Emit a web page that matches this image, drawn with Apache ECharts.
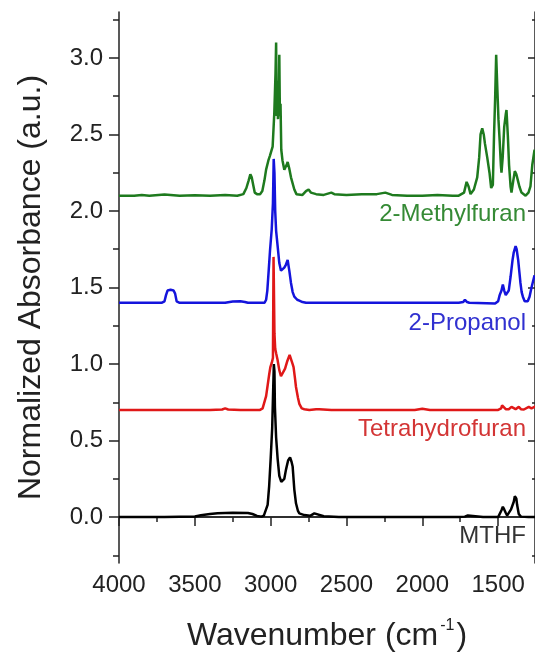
<!DOCTYPE html>
<html>
<head>
<meta charset="utf-8">
<script src="https://cdn.jsdelivr.net/npm/echarts@6/dist/echarts.min.js"></script>
<style>
html,body{margin:0;padding:0;background:#fff;}
#chart{width:535px;height:658px;}
</style>
</head>
<body>
<div id="chart"></div>
<script>
// ---- data: [wavenumber (cm-1), normalized absorbance (offset)] ----
var mthf = [[4000,0],[3700,0],[3500,0.004],[3460,0.012],[3400,0.02],[3350,0.025],[3250,0.028],[3150,0.027],[3120,0.02],[3090,0.008],[3060,0.003],[3045,0.01],[3035,0.02],[3020,0.08],[3010,0.2],[3000,0.38],[2990,0.58],[2983,0.85],[2979,1.0],[2975,0.95],[2972,0.72],[2964,0.52],[2954,0.38],[2943,0.27],[2930,0.23],[2921,0.22],[2910,0.25],[2899,0.31],[2885,0.37],[2872,0.39],[2862,0.36],[2855,0.33],[2844,0.18],[2833,0.09],[2820,0.04],[2811,0.024],[2778,0.013],[2740,0.008],[2712,0.024],[2700,0.012],[2650,0.005],[2550,0],[2000,0],[1760,0],[1720,0.003],[1700,0.01],[1690,0.003],[1600,0],[1500,0],[1490,0.01],[1478,0.045],[1469,0.067],[1460,0.05],[1451,0.03],[1441,0.01],[1430,0.015],[1415,0.05],[1397,0.10],[1390,0.137],[1386,0.13],[1380,0.12],[1375,0.08],[1364,0.02],[1350,0.003],[1300,0],[1250,0]];

var thf = [[4000,0.7],[3400,0.7],[3320,0.703],[3300,0.71],[3280,0.703],[3200,0.7],[3070,0.7],[3053,0.71],[3041,0.72],[3030,0.79],[3020,0.86],[3010,0.93],[3002,0.98],[2992,1.01],[2985,1.04],[2981,1.70],[2978,1.45],[2975,1.2],[2970,1.10],[2964,1.07],[2955,1.03],[2943,0.96],[2932,0.92],[2920,0.93],[2905,0.97],[2890,1.02],[2875,1.06],[2866,1.06],[2855,1.0],[2849,0.98],[2840,0.91],[2833,0.85],[2820,0.78],[2811,0.74],[2795,0.71],[2778,0.705],[2745,0.7],[2700,0.705],[2690,0.712],[2680,0.705],[2600,0.7],[2050,0.7],[2000,0.708],[1950,0.7],[1500,0.7],[1480,0.71],[1474,0.73],[1465,0.72],[1450,0.705],[1430,0.705],[1412,0.72],[1400,0.71],[1385,0.705],[1364,0.72],[1350,0.705],[1330,0.703],[1298,0.72],[1280,0.71],[1250,0.725]];

var propanol = [[4000,1.4],[3720,1.4],[3700,1.41],[3690,1.45],[3680,1.48],[3660,1.485],[3640,1.48],[3630,1.46],[3620,1.41],[3600,1.4],[3300,1.4],[3250,1.408],[3200,1.41],[3170,1.405],[3150,1.4],[3040,1.4],[3030,1.42],[3022,1.48],[3013,1.61],[3004,1.745],[2993,1.88],[2985,2.05],[2980,2.34],[2975,2.25],[2970,2.0],[2964,1.87],[2954,1.77],[2943,1.66],[2932,1.61],[2925,1.60],[2910,1.63],[2899,1.65],[2888,1.68],[2877,1.61],[2866,1.53],[2855,1.47],[2844,1.44],[2825,1.42],[2811,1.414],[2790,1.405],[2767,1.4],[2670,1.4],[2658,1.41],[2640,1.4],[1760,1.4],[1730,1.405],[1719,1.42],[1705,1.405],[1690,1.4],[1520,1.395],[1500,1.41],[1490,1.45],[1478,1.48],[1469,1.52],[1460,1.48],[1450,1.45],[1441,1.44],[1430,1.48],[1418,1.57],[1405,1.68],[1397,1.73],[1385,1.77],[1378,1.75],[1368,1.68],[1360,1.6],[1353,1.53],[1345,1.47],[1337,1.44],[1325,1.41],[1316,1.40],[1305,1.41],[1293,1.44],[1280,1.5],[1260,1.58]];

var methylfuran = [[4000,2.1],[3900,2.1],[3850,2.105],[3800,2.1],[3700,2.108],[3600,2.1],[3500,2.103],[3400,2.1],[3300,2.105],[3220,2.1],[3180,2.11],[3160,2.15],[3145,2.2],[3134,2.24],[3125,2.22],[3115,2.17],[3105,2.12],[3090,2.11],[3070,2.11],[3055,2.13],[3041,2.2],[3030,2.27],[3015,2.33],[3005,2.36],[2997,2.37],[2987,2.42],[2976,2.64],[2968,2.9],[2964,3.10],[2960,2.62],[2956,2.85],[2952,2.6],[2946,2.75],[2943,3.02],[2939,2.62],[2935,2.7],[2930,2.4],[2922,2.33],[2910,2.27],[2895,2.3],[2888,2.32],[2878,2.28],[2866,2.22],[2844,2.14],[2830,2.11],[2790,2.105],[2767,2.13],[2750,2.14],[2735,2.12],[2700,2.11],[2650,2.105],[2600,2.12],[2580,2.11],[2500,2.105],[2400,2.11],[2300,2.11],[2244,2.12],[2200,2.105],[2100,2.1],[2000,2.1],[1900,2.105],[1800,2.1],[1760,2.1],[1725,2.12],[1708,2.19],[1695,2.16],[1682,2.11],[1660,2.14],[1638,2.22],[1625,2.35],[1616,2.5],[1605,2.54],[1595,2.5],[1587,2.44],[1572,2.35],[1557,2.25],[1546,2.15],[1535,2.17],[1527,2.5],[1520,2.73],[1513,3.02],[1505,2.79],[1498,2.6],[1490,2.46],[1482,2.3],[1478,2.25],[1470,2.35],[1460,2.55],[1450,2.63],[1445,2.66],[1436,2.49],[1428,2.3],[1418,2.16],[1412,2.12],[1400,2.2],[1390,2.26],[1380,2.24],[1370,2.2],[1360,2.16],[1346,2.12],[1319,2.1],[1300,2.12],[1287,2.16],[1275,2.3],[1260,2.4]];

var seriesNames = ['MTHF', 'Tetrahydrofuran', '2-Propanol', '2-Methylfuran'];
var xMajorTicks = [1500, 2000, 2500, 3000, 3500, 4000];
var xMinorTicks = [1750, 2250, 2750, 3250, 3750];
var yMajorTicks = [0, 0.5, 1.0, 1.5, 2.0, 2.5, 3.0];
var yMinorTicks = [-0.25, 0.25, 0.75, 1.25, 1.75, 2.25, 2.75, 3.25];
var xTitle = 'Wavenumber (cm';
var yTitle = 'Normalized Absorbance (a.u.)';

var FONT = "'Liberation Sans', Arial, sans-serif";
var AX = '#222';
var lineColors = ['#000000', '#e01818', '#1414dc', '#1e7a1e'];
var labelColors = ['#333333', '#d33535', '#3030d0', '#358a35'];
var labelY = [535, 428, 322, 213];

var X_MIN = 1257, X_MAX = 4000, Y_MIN = -0.3, Y_MAX = 3.3;

function xAxisBase(extra) {
  var a = {
    type: 'value', inverse: true, min: X_MIN, max: X_MAX,
    splitLine: {show: false},
    axisLine: {show: true, lineStyle: {color: AX, width: 1.5}},
    axisLabel: {show: false}
  };
  for (var k in extra) a[k] = extra[k];
  return a;
}
function yAxisBase(extra) {
  var a = {
    type: 'value', min: Y_MIN, max: Y_MAX,
    splitLine: {show: false},
    axisLine: {show: true, onZero: false, lineStyle: {color: AX, width: 1.5}},
    axisLabel: {show: false}
  };
  for (var k in extra) a[k] = extra[k];
  return a;
}

var chart = echarts.init(document.getElementById('chart'), null, {renderer: 'canvas'});

var series = [mthf, thf, propanol, methylfuran].map(function (d, i) {
  return {
    name: seriesNames[i], type: 'line', data: d, showSymbol: false, symbol: 'none',
    xAxisIndex: 0, yAxisIndex: 0,
    lineStyle: {color: lineColors[i], width: 2.5},
    itemStyle: {color: lineColors[i]},
    z: 2 + i, animation: false
  };
});

var graphics = seriesNames.map(function (n, i) {
  return {
    type: 'text', right: 9, top: labelY[i] - 11,
    style: {text: n, font: '24px ' + FONT, fill: labelColors[i]}
  };
});

chart.setOption({
  animation: false,
  backgroundColor: '#fff',
  grid: {left: 119, top: 12, width: 417, height: 551, containLabel: false},
  xAxis: [
    xAxisBase({
      position: 'bottom',
      name: '{t|' + xTitle + '}{s|-1}{t|)}', nameLocation: 'middle', nameGap: 55,
      nameTextStyle: {rich: {
        t: {fontSize: 32, fontFamily: FONT, color: '#222', lineHeight: 36},
        s: {fontSize: 16, fontFamily: FONT, color: '#222', verticalAlign: 'top', lineHeight: 20, padding: [0, 2, 0, 2]}
      }},
      axisTick: {show: true, inside: false, length: 9, customValues: xMajorTicks, lineStyle: {color: AX, width: 1.5}},
      axisLabel: {show: true, customValues: xMajorTicks, margin: 10, fontSize: 24, fontFamily: FONT, color: '#222',
        formatter: function (v) { return String(Math.round(v)); }}
    }),
    xAxisBase({
      position: 'bottom', axisLine: {show: false},
      axisTick: {show: true, inside: false, length: 5, customValues: xMinorTicks, lineStyle: {color: AX, width: 1.5}}
    }),
    xAxisBase({
      position: 'top',
      axisTick: {show: true, inside: true, length: 5, customValues: xMajorTicks.concat(xMinorTicks), lineStyle: {color: AX, width: 1.5}}
    })
  ],
  yAxis: [
    yAxisBase({
      position: 'left',
      name: yTitle, nameLocation: 'middle', nameGap: 72,
      nameTextStyle: {fontSize: 32, fontFamily: FONT, color: '#222'},
      axisTick: {show: true, inside: false, length: 10, customValues: yMajorTicks, lineStyle: {color: AX, width: 1.5}},
      axisLabel: {show: true, customValues: yMajorTicks, margin: 16, fontSize: 24, fontFamily: FONT, color: '#222',
        formatter: function (v) { return v.toFixed(1); }}
    }),
    yAxisBase({
      position: 'left', axisLine: {show: false},
      axisTick: {show: true, inside: false, length: 6, customValues: yMinorTicks, lineStyle: {color: AX, width: 1.5}}
    }),
    yAxisBase({
      position: 'right',
      axisTick: {show: true, inside: true, length: 7, customValues: yMajorTicks, lineStyle: {color: AX, width: 1.5}}
    }),
    yAxisBase({
      position: 'right', axisLine: {show: false},
      axisTick: {show: true, inside: true, length: 3, customValues: yMinorTicks, lineStyle: {color: AX, width: 1.5}}
    })
  ],
  series: series,
  graphic: graphics
});
</script>
</body>
</html>
